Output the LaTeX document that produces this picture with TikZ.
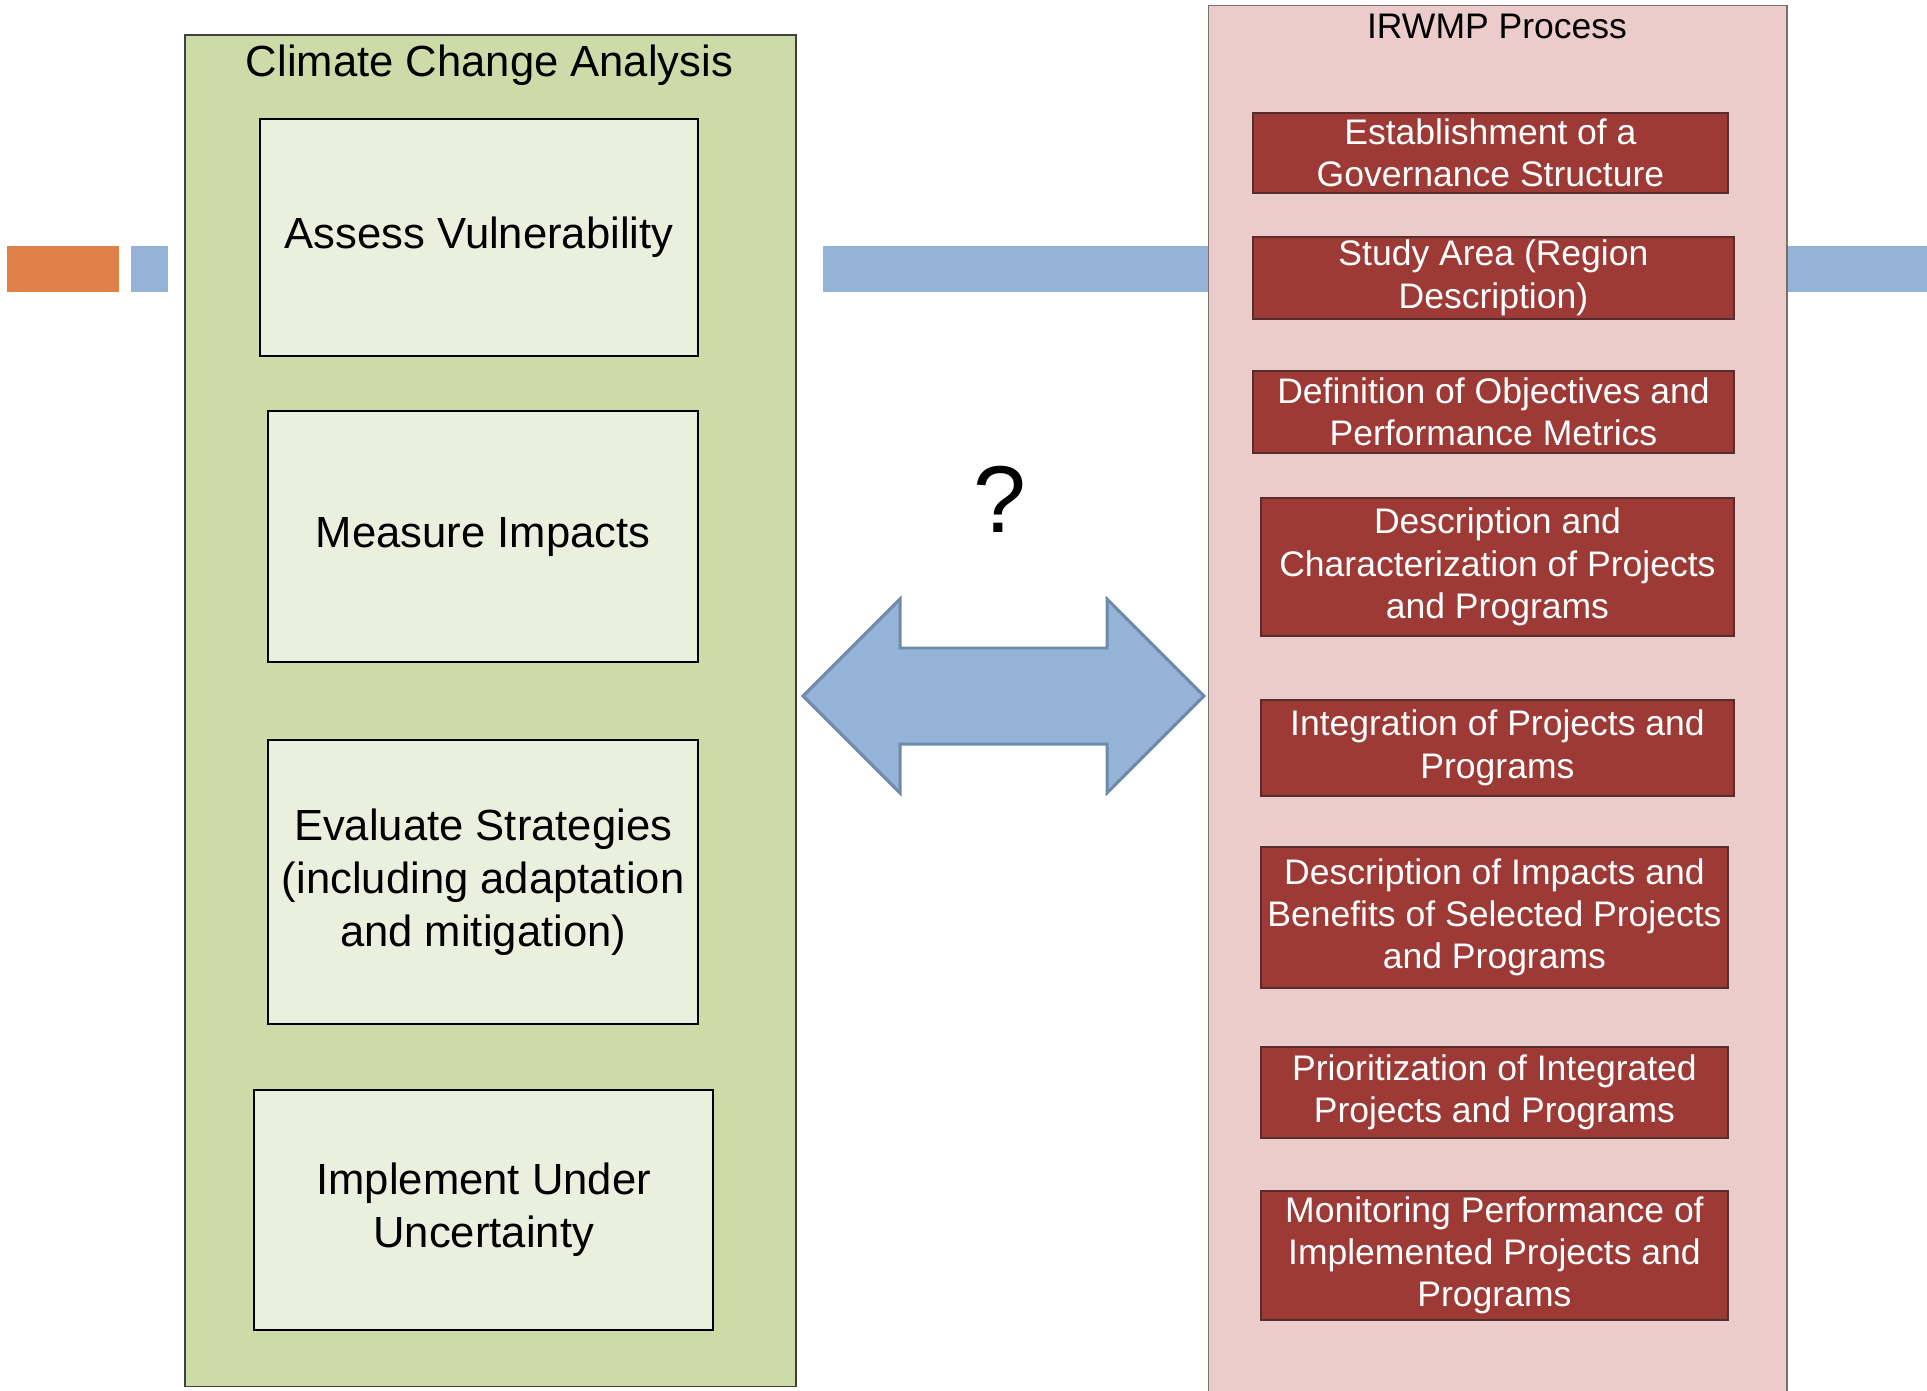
\documentclass[tikz,border=0pt]{standalone}
\usepackage{fontspec}
\setmainfont{Liberation Sans}
\usetikzlibrary{positioning}

\definecolor{panelgreen}{RGB}{204,219,168}
\definecolor{boxgreen}{RGB}{235,239,222}
\definecolor{panelpink}{RGB}{235,204,203}
\definecolor{boxred}{RGB}{157,58,54}
\definecolor{bandblue}{RGB}{149,179,215}
\definecolor{arrowedge}{RGB}{108,139,166}
\definecolor{bandorange}{RGB}{223,128,72}

\begin{document}
\begin{tikzpicture}[x=0.01cm, y=-0.01cm]
        \tikzset{
            panel/.style={rectangle, anchor=north west, inner sep=0pt},
            stepbox/.style={rectangle, draw=black, line width=0.6pt, fill=boxgreen, anchor=north west, inner sep=0pt, align=center, font=\fontsize{12.4}{15.1}\selectfont},
            taskbox/.style={rectangle, draw={rgb,255:red,85;green,45;blue,43}, line width=0.45pt, fill=boxred, text=white, anchor=north west, inner sep=0pt, align=center, font=\fontsize{10.1}{12}\selectfont},
            linkarrow/.style={fill=bandblue, draw=arrowedge, line width=0.85pt, line join=miter}
        }
        \useasboundingbox (0,0) rectangle (1927,1391);

        % decoration band
        \fill[bandorange] (7,246) rectangle (119,292);
        \fill[bandblue] (131,246) rectangle (168,292);
        \fill[bandblue] (823,246) rectangle (1927,292);

        % climate change side
        \node[panel, draw={rgb,255:red,64;green,64;blue,64}, line width=0.45pt, fill=panelgreen, minimum width=6.11cm, minimum height=13.51cm] (ccapanel) at (184,34) {};
        \node[anchor=base, font=\fontsize{12.4}{15}\selectfont] (ccatitle) at (489.5,77) {Climate Change Analysis};

        \node[stepbox, minimum width=4.38cm, minimum height=2.37cm] (assess) at (259,118) {Assess Vulnerability};
        \node[stepbox, minimum width=4.30cm, minimum height=2.51cm] (measure) at (267,410) {Measure Impacts};
        \node[stepbox, minimum width=4.30cm, minimum height=2.84cm] (evaluate) at (267,739) {Evaluate Strategies\\(including adaptation\\and mitigation)};
        \node[stepbox, minimum width=4.59cm, minimum height=2.40cm] (implement) at (253,1089) {Implement Under\\Uncertainty};

        % irwmp side
        \node[panel, draw={rgb,255:red,120;green,110;blue,110}, line width=0.35pt, fill=panelpink, minimum width=5.78cm, minimum height=13.95cm] (irwmppanel) at (1208,5) {};
        \node[anchor=base, font=\fontsize{10.1}{12}\selectfont] (irwmptitle) at (1497,39) {IRWMP Process};

        \node[taskbox, minimum width=4.75cm, minimum height=0.80cm] (governance) at (1252,112) {Establishment of a\\Governance Structure};
        \node[taskbox, minimum width=4.81cm, minimum height=0.82cm] (studyarea) at (1252,236) {Study Area (Region\\Description)};
        \node[taskbox, minimum width=4.81cm, minimum height=0.82cm] (objectives) at (1252,370) {Definition of Objectives and\\Performance Metrics};
        \node[taskbox, minimum width=4.73cm, minimum height=1.38cm] (characterize) at (1260,497) {Description and\\Characterization of Projects\\and Programs};
        \node[taskbox, minimum width=4.73cm, minimum height=0.96cm] (integrate) at (1260,699) {Integration of Projects and\\Programs};
        \node[taskbox, minimum width=4.67cm, minimum height=1.41cm] (benefits) at (1260,846) {Description of Impacts and\\Benefits of Selected Projects\\and Programs};
        \node[taskbox, minimum width=4.67cm, minimum height=0.91cm] (prioritize) at (1260,1046) {Prioritization of Integrated\\Projects and Programs};
        \node[taskbox, minimum width=4.67cm, minimum height=1.29cm] (monitor) at (1260,1190) {Monitoring Performance of\\Implemented Projects and\\Programs};

        % link between the two
        \node[anchor=base, font=\fontsize{27}{30}\selectfont] (query) at (1000,532) {?};
        \draw[linkarrow] (803,696) -- (900,599) -- (900,648) -- (1107,648) -- (1107,599) -- (1204,696)
            -- (1107,793) -- (1107,744) -- (900,744) -- (900,793) -- cycle;

    \end{tikzpicture}
\end{document}
